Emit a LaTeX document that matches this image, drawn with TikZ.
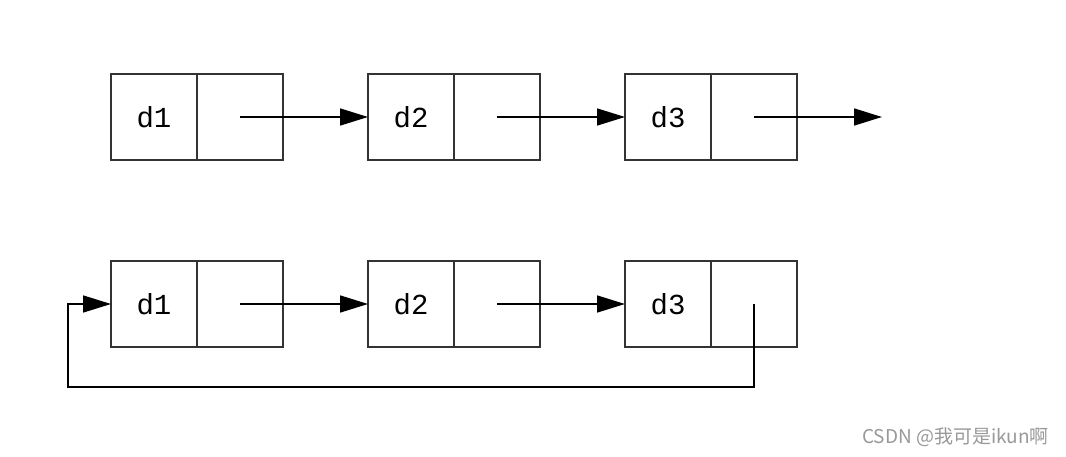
\documentclass[tikz,border=0pt]{standalone}
\usepackage{fontspec}
\setmonofont{Liberation Mono}
\newfontfamily\cjk{Noto Sans CJK SC}
\usetikzlibrary{arrows.meta}
\begin{document}
\begin{tikzpicture}[x=1pt,y=-1pt,
  cell/.style={draw=black!80,line width=1.8pt,minimum width=86pt,minimum height=86pt,inner sep=0pt,outer sep=0pt,anchor=north west,font=\fontsize{29}{29}\ttfamily},
  link/.style={line width=1.6pt,-{Triangle[length=28pt,width=17pt]}}]
\useasboundingbox (0,0) rectangle (1066,457);
\fill[white] (0,0) rectangle (1066,457);
% top row
\node[cell] (a1) at (111,74) {d1};
\node[cell] (p1) at (197,74) {};
\node[cell] (a2) at (368,74) {d2};
\node[cell] (p2) at (454,74) {};
\node[cell] (a3) at (625,74) {d3};
\node[cell] (p3) at (711,74) {};
\coordinate (e3) at (882,117);
\draw[link] (p1.center) -- (a2.west);
\draw[link] (p2.center) -- (a3.west);
\draw[link] (p3.center) -- (e3);
% bottom row
\node[cell] (b1) at (111,261) {d1};
\node[cell] (q1) at (197,261) {};
\node[cell] (b2) at (368,261) {d2};
\node[cell] (q2) at (454,261) {};
\node[cell] (b3) at (625,261) {d3};
\node[cell] (q3) at (711,261) {};
\draw[link] (q1.center) -- (b2.west);
\draw[link] (q2.center) -- (b3.west);
\coordinate (r2) at (68,387);
\draw[link] (q3.center) |- (r2) |- (b1.west);
% watermark
\node[anchor=west,text=black!40,font=\cjk\fontsize{19}{19}\selectfont,inner sep=0pt] (wm) at (862,437) {CSDN @我可是ikun啊};
\end{tikzpicture}
\end{document}
